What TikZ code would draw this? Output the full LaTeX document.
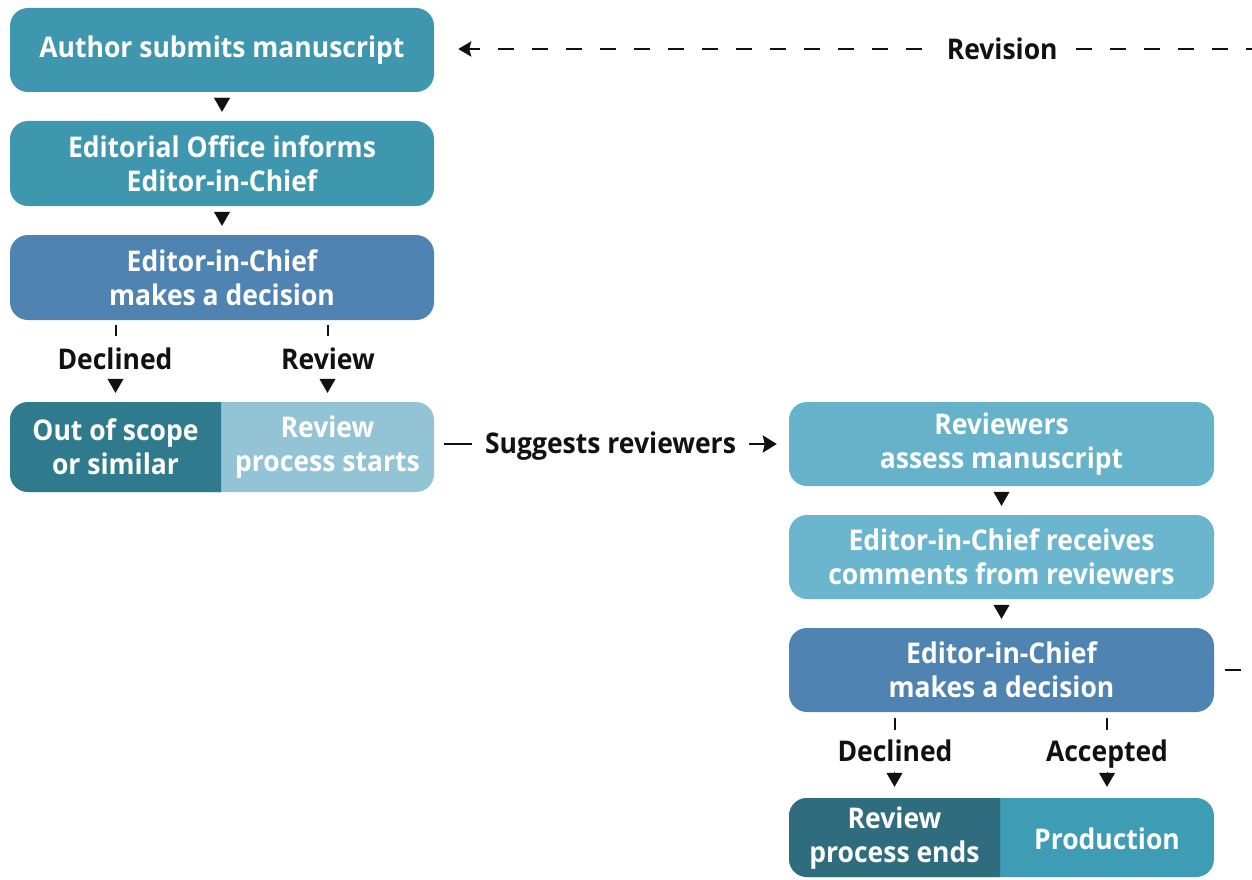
\documentclass[tikz,border=0pt]{standalone}
\usepackage{fontspec}
\setmainfont{Open Sans}[FakeStretch=0.93]
\usetikzlibrary{arrows.meta}
\definecolor{cTeal}{HTML}{3F97AF}
\definecolor{cDec}{HTML}{4F83B2}
\definecolor{cOut}{HTML}{2F7B8D}
\definecolor{cStart}{HTML}{93C4D6}
\definecolor{cRevA}{HTML}{66B2CA}
\definecolor{cRevB}{HTML}{6BB6CE}
\definecolor{cEnd}{HTML}{2E6C7E}
\definecolor{cProd}{HTML}{3E9CB4}
\definecolor{cInk}{HTML}{111111}
\newcommand\boxfont{\bfseries\fontsize{28.5}{34}\selectfont}
\newcommand\lblfont{\bfseries\fontsize{28.5}{34}\selectfont}
\begin{document}
\begin{tikzpicture}[x=1pt,y=-1pt,
  stepbox/.style={rounded corners=18pt, minimum width=424pt, minimum height=84pt,
    text=white, align=center, font=\boxfont, inner sep=0pt},
  halfbox/.style={minimum width=211pt, minimum height=84pt, text=white,
    align=center, font=\boxfont, inner sep=0pt},
  lbl/.style={text=cInk, font=\lblfont, inner sep=0pt, text height=21pt, text depth=6pt},
  tri/.style={-{Triangle[width=16pt,length=14pt]}, line width=0.4pt, draw=cInk, fill=cInk},
  tickln/.style={line width=2pt, draw=cInk},
  conn/.style={line width=2.5pt, draw=cInk},
  dashln/.style={line width=2.8pt, draw=cInk, dash pattern=on 16pt off 18pt}
]
\clip (0,0) rectangle (1252,880);
\fill[white] (0,0) rectangle (1252,880);

% left column
\node[stepbox, fill=cTeal, minimum height=84pt] (n1) at (222,50) {Author submits manuscript};
\node[stepbox, fill=cTeal, minimum height=85pt] (n2) at (222,163.5) {Editorial Office informs\\Editor-in-Chief};
\node[stepbox, fill=cDec, minimum height=85pt] (n3) at (222,277.5) {Editor-in-Chief\\makes a decision};

% split box 4
\fill[cStart, rounded corners=18pt] (10,402) rectangle (434,492);
\begin{scope}
  \clip (10,402) rectangle (221,492);
  \fill[cOut, rounded corners=18pt] (10,402) rectangle (434,492);
\end{scope}
\node[halfbox, minimum height=90pt] (out) at (115.5,447) {Out of scope\\or similar};
\node[halfbox, minimum height=90pt] (rstart) at (327.5,447) {Review\\process starts};

% right column
\node[stepbox, fill=cRevA, minimum width=425pt] (n5) at (1001.5,444) {Reviewers\\assess manuscript};
\node[stepbox, fill=cRevB, minimum width=425pt] (n6) at (1001.5,557) {Editor-in-Chief receives\\comments from reviewers};
\node[stepbox, fill=cDec, minimum width=425pt] (n7) at (1001.5,670) {Editor-in-Chief\\makes a decision};

% split box 8
\fill[cProd, rounded corners=18pt] (789,798) rectangle (1214,877);
\begin{scope}
  \clip (789,798) rectangle (1000,877);
  \fill[cEnd, rounded corners=18pt] (789,798) rectangle (1214,877);
\end{scope}
\node[halfbox, minimum height=79pt] (rend) at (894.5,838.5) {Review\\process ends};
\node[halfbox, minimum height=79pt] (prod) at (1107,838.5) {Production};

% straight connectors
\draw[tri] ([yshift=-6pt]n1.south) -- ([yshift=9pt]n2.north);
\draw[tri] ([yshift=-6pt]n2.south) -- ([yshift=9pt]n3.north);
\draw[tri] ([yshift=-6pt]n5.south) -- ([yshift=9pt]n6.north);
\draw[tri] ([yshift=-6pt]n6.south) -- ([yshift=9pt]n7.north);

% first decision
\node[lbl] (dl1) at (115,361.5) {Declined};
\node[lbl] (rl1) at (328,361.5) {Review};
\draw[tickln] ([yshift=-5pt]n3.south -| out.north) -- ++(0,11);
\draw[tickln] ([yshift=-5pt]n3.south -| rstart.north) -- ++(0,11);
\draw[tri] ([yshift=23pt]out.north) -- ([yshift=9pt]out.north);
\draw[tri] ([yshift=23pt]rstart.north) -- ([yshift=9pt]rstart.north);

% second decision
\node[lbl] (dl2) at (895,753.5) {Declined};
\node[lbl] (al2) at (1107,753.5) {Accepted};
\draw[tickln] ([yshift=-6pt]n7.south -| rend.north) -- ++(0,12);
\draw[tickln] ([yshift=-6pt]n7.south -| prod.north) -- ++(0,12);
\draw[tri] ([yshift=27pt]rend.north) -- ([yshift=12pt]rend.north);
\draw[tri] ([yshift=27pt]prod.north) -- ([yshift=12pt]prod.north);

% suggests reviewers
\coordinate (sgA) at (n5.west -| rstart.east);
\draw[conn, -{Stealth[length=14pt,width=17pt,inset=2pt]}]
  ([xshift=11pt]sgA) -- node[lbl, fill=white, inner xsep=13pt, inner ysep=4pt, yshift=-2pt] {Suggests reviewers}
  ([xshift=-12pt]n5.west);

% revision loop (runs off the right edge)
\coordinate (offA) at (1290,670);
\coordinate (offB) at (1290,49);
\draw[dashln, -{Stealth[length=13pt,width=15pt,inset=2pt]}]
  ([xshift=11pt]n7.east) -- (offA) -- (offB) --
  node[lbl, pos=0.346, fill=white, inner xsep=12pt, inner ysep=4pt, yshift=-3pt] {Revision}
  ([xshift=24pt,yshift=1pt]n1.east);
\end{tikzpicture}
\end{document}
